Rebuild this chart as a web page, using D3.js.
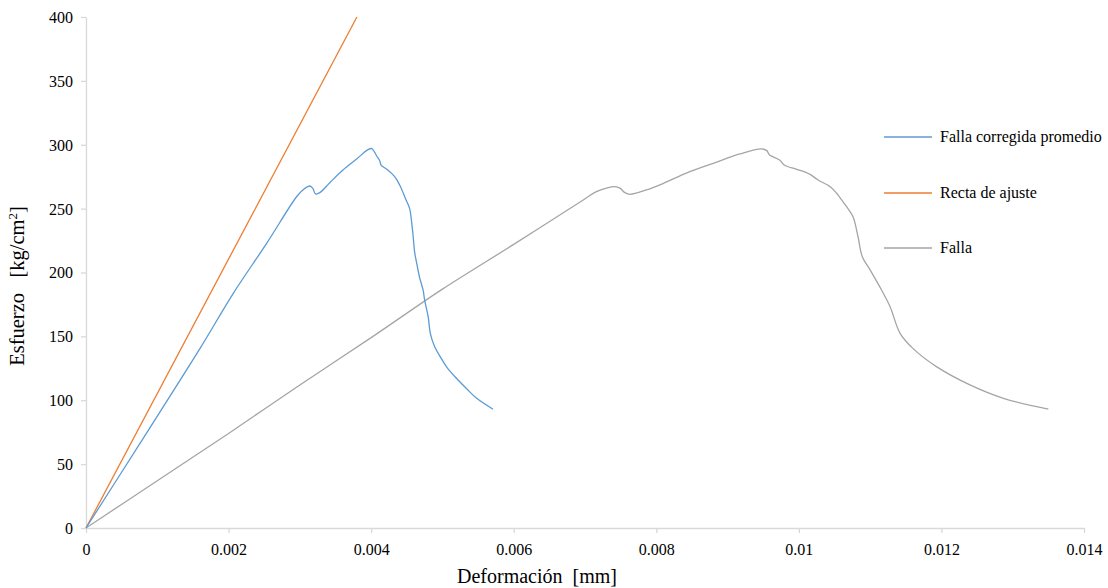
<!DOCTYPE html>
<html>
<head>
<meta charset="utf-8">
<script src="https://cdn.jsdelivr.net/npm/d3@7"></script>
<style>
  html, body { margin: 0; padding: 0; background: #fff; }
</style>
</head>
<body>
<svg id="chart" width="1108" height="588"></svg>
<script>
// Stress–strain curves: [deformation (mm), stress (kg/cm²)]
const seriesNames = ["Falla corregida promedio", "Recta de ajuste", "Falla"];
const seriesColors = ["#5B9BD5", "#ED7D31", "#A5A5A5"];

const fallaCorregida = [
  [0,0],[0.0008,70],[0.0016,140.6],[0.002066,183.7],[0.002534,222.8],[0.002954,259.3],
  [0.00305,265],[0.00314,267.7],[0.00318,266],[0.00322,261.5],[0.00328,262.5],[0.00342,270.3],
  [0.0036,280],[0.0038,289],[0.00395,296],[0.00401,297],[0.00405,294],[0.00408,291],
  [0.00412,287.5],[0.00414,284],[0.00422,280.8],[0.00433,275],[0.0044,268.5],[0.00449,256.8],
  [0.00454,250],[0.00457,238.5],[0.00459,228],[0.00461,216],[0.00464,207],[0.00468,196],
  [0.00473,186],[0.00475,178.5],[0.0048,165.4],[0.00483,152.4],[0.00489,142],[0.00497,134],
  [0.00506,126],[0.0052,117],[0.00534,109],[0.00548,101.5],[0.00571,93]
];
const rectaAjuste = [[0,0],[0.0038,400]];
const falla = [
  [0,0],[0.001,37],[0.002,74],[0.003,112],[0.004,149],[0.005,187],[0.006,222],
  [0.006975,256.8],[0.00716,263.3],[0.0073,266],[0.00742,267.2],[0.00749,266],[0.00756,262.5],
  [0.00763,261.2],[0.00786,264.6],[0.0081,269.8],[0.00843,278],[0.0088,285.5],[0.00917,292.8],
  [0.00948,296.7],[0.00955,295.4],[0.00959,292],[0.00973,288],[0.0098,284],[0.00997,280.8],
  [0.01015,277],[0.01027,272.4],[0.01044,267.2],[0.01053,262],[0.0106,256.8],[0.01067,251.5],
  [0.01076,243.7],[0.01083,228],[0.01089,212.4],[0.011,202],[0.01116,186.3],[0.01128,173.2],
  [0.01142,152.4],[0.0116,140.6],[0.01193,126.3],[0.0124,112],[0.01287,101.5],[0.0135,93]
];
const xTicks = [0, 0.002, 0.004, 0.006, 0.008, 0.01, 0.012, 0.014];
const xTickLabels = ["0", "0.002", "0.004", "0.006", "0.008", "0.01", "0.012", "0.014"];
const yTicks = [0, 50, 100, 150, 200, 250, 300, 350, 400];

const FONT = '"Liberation Serif", "Times New Roman", "DejaVu Serif", serif';
const svg = d3.select("#chart");
const x = d3.scaleLinear().domain([0, 0.014]).range([86, 1084]);
const y = d3.scaleLinear().domain([0, 400]).range([528, 17]);

const axisColor = "#D9D9D9";

// X axis
const gx = svg.append("g").attr("transform", `translate(0,${y(0)})`)
  .call(d3.axisBottom(x).tickValues(xTicks).tickFormat((d, i) => xTickLabels[i]).tickSize(5).tickSizeOuter(0));
gx.select(".domain").attr("stroke", axisColor).attr("stroke-width", 1.3);
gx.selectAll(".tick line").attr("stroke", axisColor).attr("stroke-width", 1.3);
gx.selectAll(".tick text").attr("font-size", 16).attr("dy", "1.2em");

// Y axis
const gy = svg.append("g").attr("transform", `translate(${x(0)},0)`)
  .call(d3.axisLeft(y).tickValues(yTicks).tickSize(5).tickSizeOuter(0));
gy.select(".domain").attr("stroke", axisColor).attr("stroke-width", 1.3);
gy.selectAll(".tick line").attr("stroke", axisColor).attr("stroke-width", 1.3);
gy.selectAll(".tick text").attr("font-size", 16).attr("x", -13).attr("dy", "0.34em");
gx.attr("font-family", null).attr("font-size", null);
gy.attr("font-family", null).attr("font-size", null);

// Axis titles
svg.append("text").attr("x", 537).attr("y", 583).attr("text-anchor", "middle")
  .attr("font-size", 20).text("Deformación\u00A0\u00A0[mm]");
const yt = svg.append("text").attr("transform", "translate(24,286) rotate(-90)")
  .attr("text-anchor", "middle").attr("font-size", 20.5);
yt.append("tspan").text("Esfuerzo\u00A0\u00A0\u00A0[kg/cm");
yt.append("tspan").attr("font-size", 13).attr("dy", -7).text("2");
yt.append("tspan").attr("dy", 7).text("]");

// Curves
const line = d3.line().x(d => x(d[0])).y(d => y(d[1])).curve(d3.curveCatmullRom.alpha(0.5));
const lineStraight = d3.line().x(d => x(d[0])).y(d => y(d[1]));
const plot = svg.append("g");
plot.append("path").datum(falla).attr("d", line)
  .attr("fill", "none").attr("stroke", seriesColors[2]).attr("stroke-width", 1.3);
plot.append("path").datum(rectaAjuste).attr("d", lineStraight)
  .attr("fill", "none").attr("stroke", seriesColors[1]).attr("stroke-width", 1.3);
plot.append("path").datum(fallaCorregida).attr("d", line)
  .attr("fill", "none").attr("stroke", seriesColors[0]).attr("stroke-width", 1.3);

// Legend
const legendY = [137, 193, 248];
const legend = svg.append("g");
seriesNames.forEach((name, i) => {
  legend.append("line").attr("x1", 884).attr("x2", 932).attr("y1", legendY[i]).attr("y2", legendY[i])
    .attr("stroke", seriesColors[i]).attr("stroke-width", 1.6);
  legend.append("text").attr("x", 940).attr("y", legendY[i]).attr("dy", "0.34em")
    .attr("font-size", 16).text(name);
});

// Serif face on every label
svg.selectAll("text").style("font-family", FONT).attr("fill", "#000");
</script>
</body>
</html>
